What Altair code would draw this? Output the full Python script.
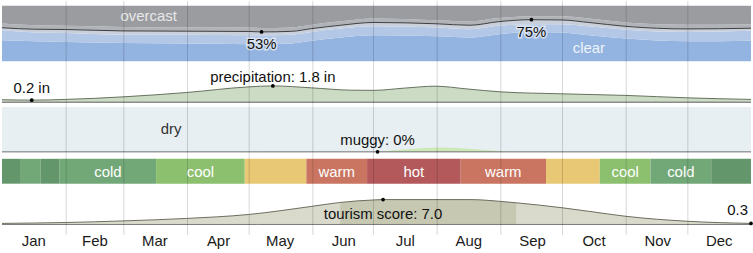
import json
import altair as alt
import pandas as pd

# ---------------- data ----------------
month_names = ["Jan", "Feb", "Mar", "Apr", "May", "Jun", "Jul", "Aug", "Sep", "Oct", "Nov", "Dec"]
month_starts = [0, 31, 59, 90, 120, 151, 181, 212, 243, 273, 304, 334]

# cloud cover: cumulative % of time (clear, +mostly clear, +partly cloudy, +mostly cloudy)
cloud_days = [0, 16, 31, 59, 90, 120, 126.5, 141, 151, 165, 181, 212, 228, 242, 258, 273, 286, 304, 334, 365]
cloud_clear = [38, 36, 35, 33, 32, 31, 31, 32, 37, 43, 47, 45, 43, 49, 53, 52, 47, 41, 36, 37]
cloud_mostly_clear = [56, 52, 51, 48, 48, 47, 47, 48, 53, 59, 63, 61, 58, 64, 67, 67, 63, 57, 53, 55]
cloud_partly = [60.5, 57.8, 57.3, 54.8, 54.3, 53.8, 53.0, 54.0, 59.0, 65.0, 70.0, 67.6, 65.0, 71.5, 75.0, 74.5, 70.0, 63.0, 58.4, 59.6]
cloud_mostly_cloudy = [68, 65, 64, 62, 61, 61, 60, 61, 66, 72, 77, 74, 72, 78, 81, 81, 77, 70, 66, 67]
band_names = ["clear", "mostly clear", "partly cloudy", "mostly cloudy", "overcast"]

# precipitation (inches, 31-day)
precip_days = [0, 14.5, 31, 59, 90, 120, 132, 151, 170, 181, 196, 211, 227, 243, 273, 304, 334, 365]
precip_in = [0.25, 0.2, 0.28, 0.57, 1.06, 1.69, 1.8, 1.58, 1.32, 1.3, 1.55, 1.77, 1.45, 1.13, 0.91, 0.73, 0.46, 0.28]

# humidity: % of time muggy
muggy_days = [0, 176, 186, 196, 206, 213, 222, 232, 242, 250, 365]
muggy_pct = [0, 0, 1.5, 5, 8.5, 10, 8.5, 5, 2, 0, 0]
muggy_label_day = 183
muggy_label_value = 0

# temperature bands
temp_start = [0, 9.2, 18.9, 28.1, 75.1, 118.3, 148.3, 177.9, 223.5, 265.1, 291.3, 316.0, 345.6]
temp_end = temp_start[1:] + [365]
temp_class = ["very cold", "cold", "very cold", "cold", "cool", "comfortable", "warm", "hot",
              "warm", "comfortable", "cool", "cold", "very cold"]
temp_label = ["", "", "", "cold", "cool", "", "warm", "hot", "warm", "", "cool", "cold", ""]
temp_classes = ["very cold", "cold", "cool", "comfortable", "warm", "hot"]

# tourism score
tour_days = [0, 31, 59, 90, 120, 151, 164.8, 181, 185.7, 212, 228, 243, 250.6, 273, 286, 304, 334, 365]
tour_score = [0.3, 0.55, 1.0, 1.7, 2.8, 5.1, 6.2, 6.9, 7.0, 7.0, 7.0, 6.5, 6.1, 4.7, 3.7, 2.3, 0.9, 0.3]
tour_best_start = 164.8
tour_best_end = 250.6

# ---------------- styling ----------------
FONT = "Liberation Sans"
W = 753
cloud_colors = ["#93b3e0", "#b3c7e6", "#c9d0db", "#b0b3b8", "#9a9ca0"]
temp_colors = ["#63966b", "#72a878", "#8cc06f", "#e8c875", "#ca7561", "#b3595b"]

xscale = alt.Scale(domain=[0, 365], nice=False, zero=False)
grid_op = {"condition": {"test": "datum.value == 0", "value": 0}, "value": 0.16}
label_expr = f"{json.dumps(month_names)}[indexof({json.dumps(month_starts)}, datum.value)]"


def axis_grid():
    return alt.Axis(values=month_starts, grid=True, gridColor="#000000", gridOpacity=grid_op,
                    labels=False, ticks=False, domain=False, title=None, zindex=1)


def axis_months():
    return alt.Axis(values=month_starts, grid=True, gridColor="#000000", gridOpacity=grid_op,
                    domain=False, title=None, zindex=1,
                    ticks=True, tickSize=7, tickColor="#000000", tickOpacity=grid_op,
                    labels=True, labelExpr=label_expr,
                    labelOffset={"condition": {"test": "datum.value == 31", "value": 29}, "value": 31.5},
                    labelFont=FONT, labelFontSize=15, labelColor="#1a1a1a", labelPadding=-1,
                    labelFlush=False, labelOverlap=False, labelBound=False)


def X(field, fn=axis_grid):
    return alt.X(f"{field}:Q", scale=xscale, axis=fn())


def text_layer(df, yscale, yfield="v", **kw):
    return alt.Chart(df).mark_text(font=FONT, fontSize=15, **kw).encode(
        x=X("day"), y=alt.Y(f"{yfield}:Q", scale=yscale, axis=None), text="t:N")


# ---------------- panel 1: cloud cover ----------------
rows = []
for i, d in enumerate(cloud_days):
    b = [0, cloud_clear[i], cloud_mostly_clear[i], cloud_partly[i], cloud_mostly_cloudy[i], 100]
    for j, name in enumerate(band_names):
        rows.append({"day": d, "band": name, "lo": b[j], "hi": b[j + 1]})
cloud_df = pd.DataFrame(rows)
cy = alt.Scale(domain=[0, 109.3], nice=False, zero=False)

c_area = alt.Chart(cloud_df).mark_area(interpolate="monotone").encode(
    x=X("day"), y=alt.Y("lo:Q", scale=cy, axis=None, stack=None), y2="hi:Q",
    color=alt.Color("band:N", scale=alt.Scale(domain=band_names, range=cloud_colors), legend=None))
line_df = pd.DataFrame({"day": cloud_days, "v": cloud_partly})
c_line = alt.Chart(line_df).mark_line(interpolate="monotone", color="#3d3d3d", strokeWidth=1).encode(
    x=X("day"), y=alt.Y("v:Q", scale=cy, axis=None))
imin = cloud_partly.index(min(cloud_partly))
imax = cloud_partly.index(max(cloud_partly))
ext_df = pd.DataFrame({"day": [cloud_days[imin], cloud_days[imax]],
                       "v": [cloud_partly[imin], cloud_partly[imax]],
                       "t": [f"{cloud_partly[imin]:.0f}%", f"{cloud_partly[imax]:.0f}%"]})
c_dot = alt.Chart(ext_df).mark_circle(size=14, color="#000000", opacity=1).encode(
    x=X("day"), y=alt.Y("v:Q", scale=cy, axis=None))
c_halo = text_layer(ext_df, cy, baseline="alphabetic", dy=17.5, color="#e4ebf5",
                    stroke="#e4ebf5", strokeWidth=3, opacity=0.8)
c_txt = text_layer(ext_df, cy, baseline="alphabetic", dy=17.5, color="#111111")
c_over = text_layer(pd.DataFrame({"day": [71.5], "v": [72.2], "t": ["overcast"]}), cy,
                    baseline="alphabetic", color="#e8e8e8")
c_clear = text_layer(pd.DataFrame({"day": [286], "v": [14.9], "t": ["clear"]}), cy,
                     baseline="alphabetic", color="#eef3fa")
panel1 = alt.layer(c_area, c_line, c_dot, c_halo, c_txt, c_over, c_clear).properties(width=W, height=61)

# ---------------- panel 2: precipitation ----------------
py = alt.Scale(domain=[-0.246, 4.564], nice=False, zero=False)
p_df = pd.DataFrame({"day": precip_days, "v": precip_in})
p_area = alt.Chart(p_df).mark_area(interpolate="monotone", color="#b6cca9",
                                   line={"color": "#66725f", "strokeWidth": 1}).encode(
    x=X("day"), y=alt.Y("v:Q", scale=py, axis=None), y2=alt.datum(0))
p_base = alt.Chart(pd.DataFrame({"v": [-0.05]})).mark_rule(color="#8c8c8c", strokeWidth=1.5).encode(
    y=alt.Y("v:Q", scale=py, axis=None))
pmin = precip_in.index(min(precip_in))
pmax = precip_in.index(max(precip_in))
pmin_df = pd.DataFrame({"day": [precip_days[pmin]], "v": [precip_in[pmin]], "t": [f"{precip_in[pmin]:.1f} in"]})
pmax_df = pd.DataFrame({"day": [precip_days[pmax]], "v": [precip_in[pmax]],
                        "t": [f"precipitation: {precip_in[pmax]:.1f} in"]})
p_dot = alt.Chart(pd.concat([pmin_df, pmax_df])).mark_circle(size=14, color="#000000", opacity=1).encode(
    x=X("day"), y=alt.Y("v:Q", scale=py, axis=None))
p_t1 = text_layer(pmin_df, py, baseline="alphabetic", dy=-7.5, color="#111111")
p_t2 = text_layer(pmax_df, py, baseline="alphabetic", dy=-4.4, color="#111111")
panel2 = alt.layer(p_area, p_base, p_dot, p_t1, p_t2).properties(width=W, height=43)

# ---------------- panel 3: humidity ----------------
hy = alt.Scale(domain=[-11.1, 106.7], nice=False, zero=False)
h_bg = alt.Chart(pd.DataFrame({"day": [0], "day2": [365], "lo": [0], "hi": [100]})).mark_rect(
    color="#e7eff2").encode(x=X("day"), x2="day2:Q", y=alt.Y("lo:Q", scale=hy, axis=None), y2="hi:Q")
m_df = pd.DataFrame({"day": muggy_days, "v": muggy_pct})
h_area = alt.Chart(m_df).mark_area(interpolate="monotone", color="#cbe8b6").encode(
    x=X("day"), y=alt.Y("v:Q", scale=hy, axis=None), y2=alt.datum(0))
h_base = alt.Chart(pd.DataFrame({"v": [0]})).mark_rule(color="#6e6e6e", strokeWidth=1).encode(
    y=alt.Y("v:Q", scale=hy, axis=None))
ml_df = pd.DataFrame({"day": [muggy_label_day], "v": [muggy_label_value],
                      "t": [f"muggy: {muggy_label_value:.0f}%"]})
h_dot = alt.Chart(ml_df).mark_circle(size=14, color="#000000", opacity=1).encode(
    x=X("day"), y=alt.Y("v:Q", scale=hy, axis=None))
h_t = text_layer(ml_df, hy, baseline="alphabetic", dy=-6.5, color="#111111")
h_dry = text_layer(pd.DataFrame({"day": [82.4], "v": [40], "t": ["dry"]}), hy,
                   baseline="alphabetic", color="#333333")
panel3 = alt.layer(h_bg, h_area, h_base, h_dot, h_t, h_dry).properties(width=W, height=53)

# ---------------- panel 4: temperature band ----------------
t_df = pd.DataFrame({"day": temp_start, "day2": temp_end, "cls": temp_class, "t": temp_label})
t_rect = alt.Chart(t_df).mark_rect().encode(
    x=X("day"), x2="day2:Q", y=alt.value(2), y2=alt.value(27),
    color=alt.Color("cls:N", scale=alt.Scale(domain=temp_classes, range=temp_colors), legend=None))
t_txt = alt.Chart(t_df).transform_filter("datum.t != ''").transform_calculate(
    mid="(datum.day + datum.day2) / 2").mark_text(font=FONT, fontSize=15, color="#ffffff", baseline="middle").encode(
    x=X("mid"), y=alt.value(15), text="t:N")
panel4 = alt.layer(t_rect, t_txt).properties(width=W, height=30)

# ---------------- panel 5: tourism score ----------------
ty = alt.Scale(domain=[-0.84, 10.64], nice=False, zero=False)
to_df = pd.DataFrame({"day": tour_days, "v": tour_score})
to_area = alt.Chart(to_df).mark_area(interpolate="monotone", color="#d9d9cc").encode(
    x=X("day", axis_months), y=alt.Y("v:Q", scale=ty, axis=None), y2=alt.datum(0))
to_best = alt.Chart(to_df).transform_filter(
    f"datum.day >= {tour_best_start} && datum.day <= {tour_best_end}").mark_area(
    interpolate="monotone", color="#c6c8b1").encode(
    x=X("day", axis_months), y=alt.Y("v:Q", scale=ty, axis=None), y2=alt.datum(0))
to_line = alt.Chart(to_df).mark_line(interpolate="monotone", color="#6d6d60", strokeWidth=1).encode(
    x=X("day", axis_months), y=alt.Y("v:Q", scale=ty, axis=None))
to_base = alt.Chart(pd.DataFrame({"v": [0]})).mark_rule(color="#7a7a7a", strokeWidth=1).encode(
    y=alt.Y("v:Q", scale=ty, axis=None))
tmax = tour_score.index(max(tour_score))
tmax_df = pd.DataFrame({"day": [tour_days[tmax]], "v": [tour_score[tmax]],
                        "t": [f"tourism score: {tour_score[tmax]:.1f}"]})
tend_df = pd.DataFrame({"day": [tour_days[-1]], "v": [tour_score[-1]], "t": [f"{tour_score[-1]:.1f}"]})
to_dot = alt.Chart(pd.concat([tmax_df, tend_df])).mark_circle(size=14, color="#000000", opacity=1).encode(
    x=X("day", axis_months), y=alt.Y("v:Q", scale=ty, axis=None))
to_t1 = alt.Chart(tmax_df).mark_text(font=FONT, fontSize=15, baseline="alphabetic", dy=19, color="#111111").encode(
    x=X("day", axis_months), y=alt.Y("v:Q", scale=ty, axis=None), text="t:N")
to_t2 = alt.Chart(tend_df).mark_text(font=FONT, fontSize=15, baseline="alphabetic", align="right",
                                     dy=-8, dx=-3, color="#111111").encode(
    x=X("day", axis_months), y=alt.Y("v:Q", scale=ty, axis=None), text="t:N")
panel5 = alt.layer(to_area, to_best, to_line, to_base, to_dot, to_t1, to_t2).properties(width=W, height=41)

chart = alt.vconcat(panel1, panel2, panel3, panel4, panel5, spacing=0, bounds="flush").resolve_scale(
    color="independent").properties(padding=0).configure_view(stroke=None)

chart.save("out.html", embed_options={"renderer": "svg", "actions": False})
